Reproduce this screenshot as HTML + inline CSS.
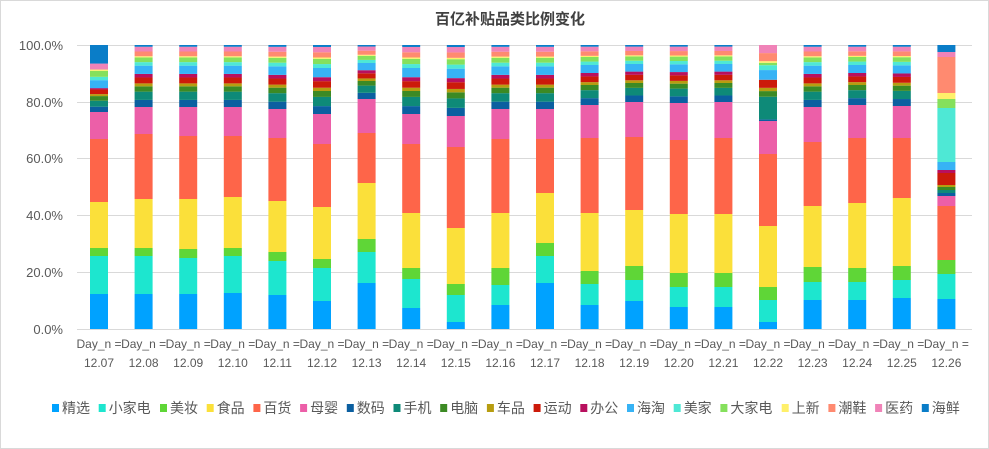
<!DOCTYPE html>
<html><head><meta charset="utf-8"><style>
html,body{margin:0;padding:0;background:#fff;}
svg{display:block;font-family:"Liberation Sans","Noto Sans CJK SC",sans-serif;}
</style></head><body>
<svg id="c" width="989" height="449" viewBox="0 0 989 449" xmlns="http://www.w3.org/2000/svg">
<rect x="0.5" y="0.5" width="988" height="448" fill="#fff" stroke="#d9d9d9"/>
<text x="510" y="24" text-anchor="middle" font-size="15" font-weight="bold" fill="#404040">百亿补贴品类比例变化</text>
<g font-size="13" fill="#595959" text-anchor="end">
<text x="63" y="50">100.0%</text><text x="63" y="107">80.0%</text><text x="63" y="163">60.0%</text>
<text x="63" y="220">40.0%</text><text x="63" y="277">20.0%</text><text x="63" y="334">0.0%</text>
</g>
<g stroke="#d9d9d9" stroke-width="1">
<line x1="77" x2="972" y1="45.5" y2="45.5"/><line x1="77" x2="972" y1="102.5" y2="102.5"/>
<line x1="77" x2="972" y1="158.5" y2="158.5"/><line x1="77" x2="972" y1="215.5" y2="215.5"/>
<line x1="77" x2="972" y1="272.5" y2="272.5"/><line x1="77" x2="972" y1="329.5" y2="329.5"/>
</g>
<g id="bars"></g>
<g id="xl" font-size="12" fill="#595959" text-anchor="middle"></g>
<g id="lg" font-size="13" fill="#595959"></g>
<script>
(function(){
var cols=["#00a2ff","#1de6cf","#5fd637","#fbe03a","#fe6549","#ec5fa8","#0b5fa0","#0e8a78","#3c8a24","#b79d10","#cc1a0a","#b8105e","#37b3f5","#4ee8d5","#85e05c","#fff06a","#ff8a70","#f083b8","#0a7dc8"];
var names=["精选","小家电","美妆","食品","百货","母婴","数码","手机","电脑","车品","运动","办公","海淘","美家","大家电","上新","潮鞋","医药","海鲜"];
var main=[[294,256,248,202,139,112],[294,256,248,199,134,107],[294,258,249,199,136,107],[293,256,248,197,136,107],[295,261,252,201,138,109],[301,268,259,207,144,114],[283,252,239,183,133,99],[308,279,268,213,144,114],[322,295,284,228,147,116],[305,285,268,213,139,109],[283,256,243,193,139,109],[305,284,271,213,138,105],[301,280,266,210,137,102],[307,287,273,214,140,103],[307,287,273,214,138,102],[322,300,287,226,154,121],[300,282,267,206,142,107],[300,282,268,203,138,105],[298,280,266,198,138,106]];
var w=[.12,.14,.09,.05,.10,.06,.14,.06,.08,.02,.08,.08,.03];
var ns="http://www.w3.org/2000/svg",B=document.getElementById("bars");
function rect(x,y1,y2,c){var r=document.createElementNS(ns,"rect");r.setAttribute("x",x);r.setAttribute("y",y2);r.setAttribute("width",18);r.setAttribute("height",Math.max(0,y1-y2));r.setAttribute("fill",c);B.appendChild(r);}
for(var i=0;i<20;i++){
 var cx=99+i*44.6,x=cx-9,b=[];
 if(i<19){var m=main[i];b=m.slice();var tp=m[5],sp=tp-45,yy=tp;
  var ww=w.slice(); if(i==0){ww=[.08,.09,.07,.03,.07,.02,.12,.05,.09,.02,.0,.09,.28];}
  if(i==15){ww=[.02,.28,.07,.04,.1,.0,.12,.06,.03,.02,.1,.1,.0];}
  var s=0;ww.forEach(function(v){s+=v;});
  ww.forEach(function(v){yy-=sp*v/s;b.push(yy);});
 } else {b=[299,274,260,260,206,196,193,190,187,185,173,170,162,108,99,93,57,52,45];}
 var prev=329;
 for(var k=0;k<19;k++){rect(x,prev,b[k],cols[k]);prev=b[k];}
 var X=document.getElementById("xl");
 var t1=document.createElementNS(ns,"text");t1.setAttribute("x",cx);t1.setAttribute("y",348);t1.textContent="Day_n =";X.appendChild(t1);
 var t2=document.createElementNS(ns,"text");t2.setAttribute("x",cx);t2.setAttribute("y",367);t2.textContent="12."+(7+i<10?"0":"")+(7+i);X.appendChild(t2);
}
var L=document.getElementById("lg"),lx=52;
names.forEach(function(n,k){var r=document.createElementNS(ns,"rect");r.setAttribute("x",lx);r.setAttribute("y",404);r.setAttribute("width",7);r.setAttribute("height",8);r.setAttribute("fill",cols[k]);L.appendChild(r);
 var t=document.createElementNS(ns,"text");t.setAttribute("x",lx+10);t.setAttribute("y",413);t.setAttribute("font-size","14");t.textContent=n;L.appendChild(t);lx+=10+n.length*14.6+7.5;});
})();
</script>
</svg>
</body></html>
